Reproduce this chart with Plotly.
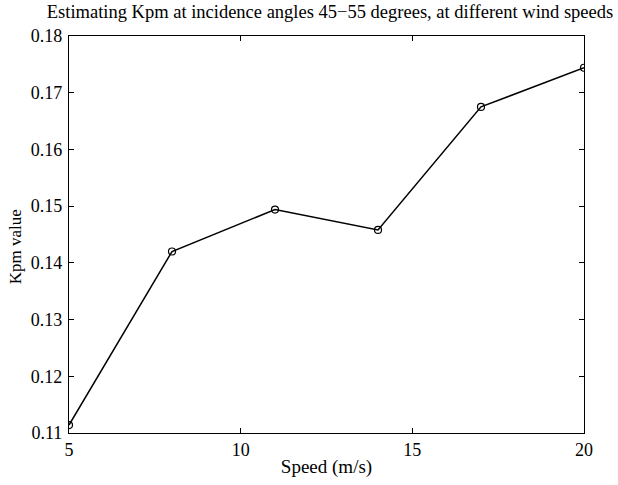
import plotly.graph_objects as go

speed = [5, 8, 11, 14, 17, 20]
kpm = [0.1114, 0.1420, 0.1494, 0.1458, 0.1675, 0.1744]
x_ticks = [5, 10, 15, 20]
y_ticks = [0.11, 0.12, 0.13, 0.14, 0.15, 0.16, 0.17, 0.18]
y_labels = ["0.11", "0.12", "0.13", "0.14", "0.15", "0.16", "0.17", "0.18"]

font = "Liberation Serif"

fig = go.Figure()
fig.add_trace(go.Scatter(
    x=speed, y=kpm, mode="lines+markers",
    line=dict(color="black", width=1.5),
    marker=dict(symbol="circle-open", size=7, color="black", line=dict(width=1.2)),
    showlegend=False,
))

fig.update_layout(
    width=618, height=485,
    margin=dict(l=69, r=34, t=36, b=44),
    paper_bgcolor="white", plot_bgcolor="white",
    font=dict(family=font, size=18, color="black"),
    title=dict(text="Estimating Kpm at incidence angles 45\u221255 degrees, at different wind speeds",
               x=0.534, xanchor="center", y=0.977, yanchor="middle",
               font=dict(family=font, size=18.5, color="black")),
    annotations=[dict(
        text="Kpm value", xref="paper", yref="paper", x=-0.105, y=0.47,
        xanchor="center", yanchor="middle", textangle=-90, showarrow=False,
        font=dict(family=font, size=17, color="black"),
    )],
)
fig.update_xaxes(
    range=[5, 20], tickvals=x_ticks, ticks="inside", ticklen=5, tickcolor="black",
    showline=True, linecolor="black", linewidth=1.2, mirror="ticks",
    showgrid=False, zeroline=False, ticklabelstandoff=0,
    title=dict(text="Speed (m/s)", standoff=0, font=dict(family=font, size=19)),
)
fig.update_yaxes(
    range=[0.11, 0.18], tickvals=y_ticks, ticktext=y_labels, ticks="inside", ticklen=5, tickcolor="black",
    showline=True, linecolor="black", linewidth=1.2, mirror="ticks",
    showgrid=False, zeroline=False, ticklabelstandoff=2,
)

fig.write_html("out.html")
